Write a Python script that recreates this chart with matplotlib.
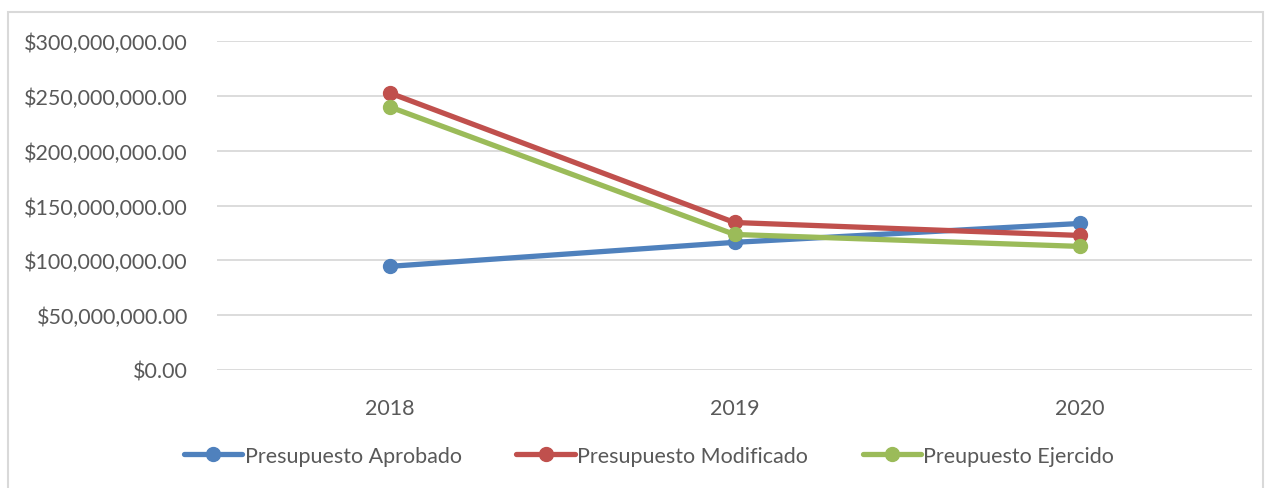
import matplotlib.pyplot as plt
from matplotlib.ticker import FuncFormatter
from matplotlib.patches import Rectangle

years = ["2018", "2019", "2020"]
aprobado = [94.5e6, 116.4e6, 133.6e6]
modificado = [252.7e6, 134.5e6, 122.7e6]
ejercido = [240.0e6, 123.6e6, 112.7e6]

series = [
    ("Presupuesto Aprobado", aprobado, "#4F81BD"),
    ("Presupuesto Modificado", modificado, "#C0504D"),
    ("Preupuesto Ejercido", ejercido, "#9BBB59"),
]

plt.rcParams['font.family'] = ['Lato', 'DejaVu Sans']
txt = "#595959"

fig = plt.figure(figsize=(12.71, 4.89), dpi=100)
ax = fig.add_axes([217 / 1271, 1 - 371 / 489, (1252 - 217) / 1271, (371 - 42) / 489])

x = range(len(years))
for name, vals, col in series:
    ax.plot(x, vals, color=col, lw=3.8, marker="o", ms=10, label=name,
            solid_capstyle="round")

ax.set_xlim(-0.5, 2.5)
ax.set_ylim(0, 300e6)
ax.set_yticks([i * 50e6 for i in range(7)])
ax.yaxis.set_major_formatter(FuncFormatter(lambda v, p: "${:,.2f}".format(v)))
ax.set_xticks(list(x))
ax.set_xticklabels(years)
ax.grid(axis="y", color="#D9D9D9", lw=1.3)
ax.set_axisbelow(True)
for s in ax.spines.values():
    s.set_visible(False)
ax.tick_params(length=0, labelsize=15.5, labelcolor=txt)
ax.tick_params(axis="y", pad=21)
ax.tick_params(axis="x", pad=20)

handles, labels = ax.get_legend_handles_labels()
fig.legend(handles, labels, loc="center", bbox_to_anchor=(649 / 1271, 1 - 457 / 489),
           ncol=3, frameon=False, fontsize=15.5, labelcolor=txt, handlelength=2.7,
           handletextpad=0.1, columnspacing=2.55)

fig.patches.append(Rectangle((8 / 1271, -0.1), (1263 - 8) / 1271, 1.1 - 13 / 489,
                             transform=fig.transFigure, fill=False,
                             edgecolor="#D9D9D9", lw=1.5))

fig.savefig("out.png", dpi=100)
